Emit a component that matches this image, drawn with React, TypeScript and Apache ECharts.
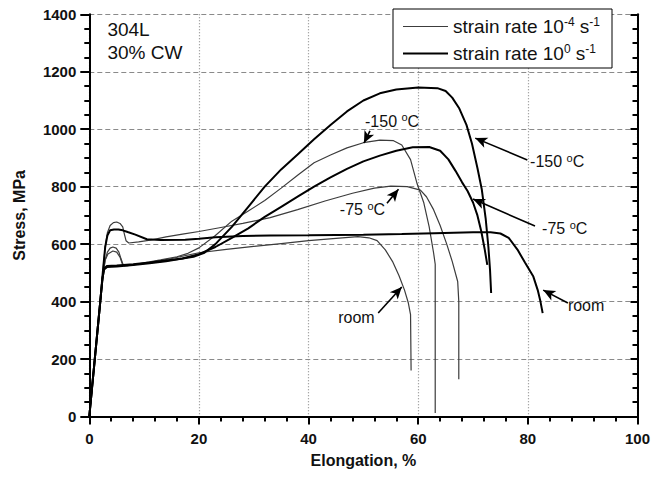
import React, { useEffect, useRef } from "react";
import * as echarts from "echarts";

// ---- Data (elongation %, stress MPa) ----
const xTicks = [0, 20, 40, 60, 80, 100];
const yTicks = [0, 200, 400, 600, 800, 1000, 1200, 1400];

const SLOW = "strain rate 10^-4 s^-1";
const FAST = "strain rate 10^0 s^-1";

// strain rate 1e-4 s^-1 (thin)
const slowM150: number[][] = [
  [0, 0], [0.5, 100], [1, 200], [1.5, 300], [2, 400], [2.5, 490], [2.9, 545], [3.3, 572], [3.8, 586],
  [4.3, 590], [4.9, 586], [5.4, 572], [5.8, 548], [6.2, 527], [7, 525], [10, 535], [13, 545], [16, 556],
  [18, 568], [20, 587], [23, 630], [26, 680], [29, 715], [32, 752], [35, 795], [38, 840], [41, 883],
  [44, 910], [47, 935], [50, 953], [53, 962], [55.5, 960], [57, 945], [58.6, 894], [59.8, 810],
  [61, 745], [62, 660], [62.8, 570], [63.1, 530], [63.1, 12],
];
const slowM75: number[][] = [
  [0, 0], [0.5, 100], [1, 200], [1.5, 300], [2, 400], [2.5, 510], [2.9, 590], [3.3, 640], [3.8, 665],
  [4.4, 675], [5, 677], [5.6, 672], [6.1, 660], [6.4, 635], [6.7, 612], [7.2, 604], [9, 608],
  [11.4, 615], [14, 625], [17, 635], [20, 644], [24, 658], [28, 672], [33, 692], [38, 720], [43, 750],
  [48, 777], [52, 795], [55, 802], [58, 800], [60.4, 788], [61.5, 765], [62.8, 720], [64, 665],
  [65.2, 600], [66.2, 540], [67.2, 470], [67.4, 400], [67.4, 130],
];
const slowRoom: number[][] = [
  [0, 0], [0.5, 100], [1, 200], [1.5, 300], [2, 400], [2.5, 500], [2.9, 545], [3.4, 566], [4.3, 576],
  [5, 572], [5.6, 555], [6, 532], [6.4, 524], [8, 528], [11, 536], [15, 550], [20, 570], [25, 582],
  [30, 592], [35, 602], [40, 612], [45, 620], [49, 626], [51, 622], [52.5, 612], [54, 580],
  [55.3, 540], [56.5, 490], [57.5, 440], [58.2, 395], [58.6, 355], [58.7, 160],
];

// strain rate 1e0 s^-1 (thick)
const fastM150: number[][] = [
  [0, 0], [0.5, 100], [1, 200], [1.5, 300], [2, 400], [2.4, 480], [2.7, 515], [3.2, 524], [5, 526],
  [8, 530], [11, 536], [14, 543], [17, 550], [19, 556], [21, 570], [23, 600], [26, 660], [29, 730],
  [32, 800], [35, 860], [38, 912], [41, 965], [44, 1015], [47, 1062], [50, 1100], [53, 1125],
  [56, 1138], [60, 1145], [63.5, 1143], [65, 1133], [66.2, 1110], [67.5, 1072], [68.8, 1015],
  [69.8, 950], [70.8, 865], [71.6, 790], [72.3, 690], [72.8, 590], [73.1, 510], [73.3, 430],
];
const fastM75: number[][] = [
  [0, 0], [0.5, 100], [1, 200], [1.5, 300], [2, 400], [2.4, 480], [2.7, 512], [3.2, 520], [5, 522],
  [8, 527], [11, 533], [14, 540], [17, 550], [20, 565], [23, 590], [26, 622], [29, 655], [32, 695],
  [35, 730], [38, 765], [41, 800], [44, 832], [47, 862], [50, 888], [53, 908], [56, 925], [59, 937],
  [62, 938], [64, 925], [65.5, 895], [66.8, 855], [68, 815], [69, 785], [70, 745], [70.8, 700],
  [71.5, 645], [72.1, 585], [72.6, 528],
];
const fastRoom: number[][] = [
  [0, 0], [0.5, 100], [1, 200], [1.5, 300], [2, 400], [2.5, 510], [2.9, 590], [3.3, 630], [3.8, 648],
  [4.5, 651], [5.3, 651], [6.1, 648], [7, 642], [8.4, 633], [10.5, 617], [13, 614], [17.5, 615],
  [20, 619], [23, 624], [28, 628], [33, 630], [40, 631], [50, 633], [57, 635], [63, 638], [70, 641],
  [73.2, 641], [75, 637], [76.5, 622], [78.1, 581], [79.5, 535], [81, 487], [81.8, 440], [82.3, 400],
  [82.7, 360],
];

// annotations in data units
const labelTemps = ["-150", "-75", "-150", "-75", "room", "room"];
const labelPos: number[][] = [
  [50.3, 1028], [45.7, 719], [80.4, 886], [82.6, 653], [45.4, 346], [87.3, 385],
];
const arrowFrom: number[][] = [
  [51.2, 994], [54.3, 742], [79.9, 893], [81.3, 663], [52.7, 360], [87.3, 395],
];
const arrowTo: number[][] = [
  [50.1, 952], [56.4, 791], [70.4, 969], [70.0, 757], [57.0, 451], [82.8, 440],
];
const noteLines = ["304L", "30% CW"];
const notePos: number[][] = [[3.3, 1348], [3.3, 1268]];

const FONT = "'Liberation Sans', Arial, Helvetica, sans-serif";

export default function App() {
  const ref = useRef<HTMLDivElement>(null);
  useEffect(() => {
    if (!ref.current) return;
    const chart = echarts.init(ref.current, null, { renderer: "svg" });
    const slowStyle = { color: "#3c3c3c", width: 1.2 };
    const fastStyle = { color: "#000000", width: 2 };
    const mk = (name: string, data: number[][], ls: any) => ({
      type: "line",
      name,
      data,
      symbol: "none",
      showSymbol: false,
      lineStyle: ls,
      itemStyle: { color: ls.color },
      z: 3,
    });
    const arrows = arrowFrom.map((f, i) => [
      { coord: f, symbol: "none" },
      { coord: arrowTo[i], symbol: "arrow", symbolSize: [8, 12] },
    ]);
    const gridLine = "#8a8a8a";
    chart.setOption({
      animation: false,
      textStyle: { fontFamily: FONT },
      grid: { left: 89.3, right: 27.5, top: 14.3, bottom: 60.5, containLabel: false },
      legend: {
        data: [
          { name: SLOW, icon: "path://M0,0H45V1.2H0Z", itemStyle: { color: "#3c3c3c" } },
          { name: FAST, icon: "path://M0,0H45V2H0Z", itemStyle: { color: "#000" } },
        ],
        orient: "vertical",
        left: 393,
        top: 9,
        itemWidth: 45,
        itemHeight: 14,
        itemGap: 7,
        padding: [7, 12, 5, 10],
        borderColor: "#000",
        borderWidth: 1,
        backgroundColor: "#fff",
        selectedMode: false,
        formatter: (name: string) =>
          name === SLOW
            ? "{a|strain rate 10}{s|-4}{a| s}{s|-1}"
            : "{a|strain rate 10}{s|0}{a| s}{s|-1}",
        textStyle: {
          fontFamily: FONT,
          color: "#111",
          rich: {
            a: { fontSize: 19, fontFamily: FONT, color: "#111", lineHeight: 22 },
            s: { fontSize: 12, fontFamily: FONT, color: "#111", padding: [0, 0, 9, 0] },
          },
        },
      },
      xAxis: {
        type: "value",
        min: 0,
        max: 100,
        interval: 20,
        name: "Elongation, %",
        nameLocation: "middle",
        nameGap: 36,
        nameTextStyle: { fontSize: 16, fontWeight: "bold", color: "#111", fontFamily: FONT },
        axisLine: { show: true, lineStyle: { color: "#000", width: 2 } },
        axisTick: { show: true, inside: false, length: 8, lineStyle: { color: "#000", width: 2 } },
        minorTick: { show: true, splitNumber: 5, length: 5, lineStyle: { color: "#000", width: 2 } },
        axisLabel: {
          fontSize: 15,
          fontWeight: "bold",
          color: "#111",
          margin: 14,
          fontFamily: FONT,
          formatter: (v: number) => (xTicks.includes(v) ? String(v) : ""),
        },
        splitLine: { show: true, lineStyle: { color: gridLine, type: [1, 2], width: 1.2 } },
      },
      yAxis: [
        {
          type: "value",
          min: 0,
          max: 1400,
          interval: 200,
          name: "Stress, MPa",
          nameLocation: "middle",
          nameGap: 62,
          nameRotate: 90,
          nameTextStyle: { fontSize: 16, fontWeight: "bold", color: "#111", fontFamily: FONT },
          axisLine: { show: true, lineStyle: { color: "#000", width: 2 } },
          axisTick: { show: true, inside: false, length: 9, lineStyle: { color: "#000", width: 2 } },
          minorTick: { show: true, splitNumber: 4, length: 5, lineStyle: { color: "#000", width: 2 } },
          axisLabel: {
            fontSize: 15,
            fontWeight: "bold",
            color: "#111",
            margin: 13,
            fontFamily: FONT,
            formatter: (v: number) => (yTicks.includes(v) ? String(v) : ""),
          },
          splitLine: { show: true, lineStyle: { color: gridLine, type: [5, 3], width: 1.2 } },
        },
        {
          type: "value",
          position: "right",
          min: 0,
          max: 1400,
          interval: 200,
          axisLine: { show: true, lineStyle: { color: "#000", width: 2 } },
          axisTick: { show: true, inside: true, length: 7, lineStyle: { color: "#000", width: 2 } },
          minorTick: { show: true, splitNumber: 4, length: 5, lineStyle: { color: "#000", width: 2 } },
          axisLabel: { show: false },
          splitLine: { show: false },
        },
      ],
      series: [
        mk(SLOW, slowRoom, slowStyle),
        mk(SLOW, slowM75, slowStyle),
        mk(SLOW, slowM150, slowStyle),
        mk(FAST, fastRoom, fastStyle),
        mk(FAST, fastM75, fastStyle),
        mk(FAST, fastM150, fastStyle),
        {
          type: "line",
          name: "annotations",
          data: [],
          symbol: "none",
          z: 4,
          markLine: {
            silent: true,
            animation: false,
            symbol: ["none", "arrow"],
            label: { show: false },
            lineStyle: { color: "#000", width: 1.6, type: "solid" },
            emphasis: { disabled: true },
            data: arrows,
          },
        },
      ],
    });

    const px = (p: number[]) => chart.convertToPixel({ xAxisIndex: 0, yAxisIndex: 0 }, p) as number[];
    const graphics: any[] = [];
    labelTemps.forEach((t, i) => {
      const [x, y] = px(labelPos[i]);
      const isRoom = t === "room";
      graphics.push({
        type: "text",
        x,
        y,
        z: 10,
        style: {
          text: isRoom ? "{t|room}" : `{t|${t} }{s|o}{t|C}`,
          fill: "#111",
          verticalAlign: "middle",
          align: "left",
          rich: {
            t: { fontSize: 16, fontFamily: FONT, fill: "#111", lineHeight: 20 },
            s: { fontSize: 11, fontFamily: FONT, fill: "#111", padding: [0, 0, 8, 0] },
          },
        },
      });
    });
    noteLines.forEach((t, i) => {
      const [x, y] = px(notePos[i]);
      graphics.push({
        type: "text",
        x,
        y,
        z: 10,
        style: {
          text: t,
          fill: "#111",
          font: `19px ${FONT}`,
          verticalAlign: "middle",
          align: "left",
        },
      });
    });
    chart.setOption({ graphic: graphics });

    return () => chart.dispose();
  }, []);
  return (
    <div
      ref={ref}
      style={{ position: "fixed", left: 0, top: 0, width: 665, height: 477, background: "#fff" }}
    />
  );
}
